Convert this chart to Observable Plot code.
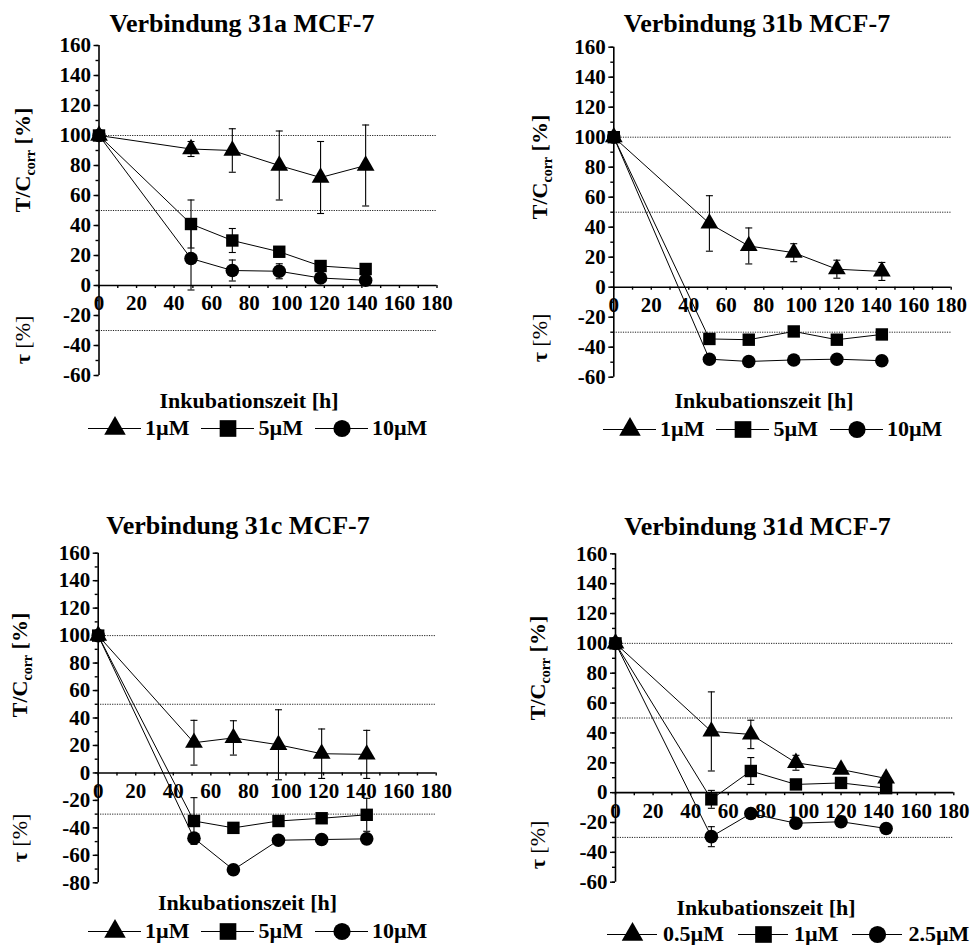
<!DOCTYPE html>
<html><head><meta charset="utf-8">
<script src="https://cdn.jsdelivr.net/npm/d3@7"></script>
<script src="https://cdn.jsdelivr.net/npm/@observablehq/plot@0.6"></script>
<style>
body{margin:0;background:#fff;}
#root{position:relative;width:971px;height:945px;overflow:hidden;font-family:"Liberation Serif","Times New Roman",serif;font-weight:bold;color:#000;background:#fff;}
.abs{position:absolute;white-space:nowrap;}
</style></head><body><div id="root"></div>
<script>
// ---------- data ----------
const symbols = ["triangle", "square", "circle"];
const refLines = [100, 50, -30];
const xMajorTicks = [0, 20, 40, 60, 80, 100, 120, 140, 160, 180];

// Verbindung 31a
const time_a = [0, 49, 71, 96, 118, 142];
const labels_a = ["1µM", "5µM", "10µM"];
const a_1uM = [100, 91, 90, 80, 72, 80];
const a_1uM_err = [0, 5, 14.5, 23, 24, 27];
const a_5uM = [100, 41, 30, 22.5, 13, 11];
const a_5uM_err = [0, 16, 8, 3, 2, 2];
const a_10uM = [100, 18, 10, 9.5, 5, 3.5];
const a_10uM_err = [0, 21, 7, 5, 2, 1];

// Verbindung 31b
const time_b = [0, 51, 72, 96, 119, 143];
const labels_b = ["1µM", "5µM", "10µM"];
const b_1uM = [100, 42.5, 27.5, 23, 12, 10.5];
const b_1uM_err = [0, 18.5, 12, 6, 6, 6];
const b_5uM = [100, -34.5, -35, -29.5, -35, -31.5];
const b_5uM_err = [0, 2, 2, 2, 2, 2];
const b_10uM = [100, -48, -49.5, -48.5, -48, -49];
const b_10uM_err = [0, 2, 2, 2, 2, 2];

// Verbindung 31c
const time_c = [0, 51, 72, 96, 119, 143];
const labels_c = ["1µM", "5µM", "10µM"];
const c_1uM = [100, 22, 25.5, 20.5, 14, 13.5];
const c_1uM_err = [0, 16.3, 12.5, 25.5, 18, 17.5];
const c_5uM = [100, -35, -40, -35, -33, -30.5];
const c_5uM_err = [0, 17, 2, 2, 2, 12];
const c_10uM = [100, -47.5, -70.5, -49, -48.5, -48];
const c_10uM_err = [0, 3, 2, 2, 2, 2];

// Verbindung 31d
const time_d = [0, 51, 72, 96, 120, 144];
const labels_d = ["0.5µM", "1µM", "2.5µM"];
const d_05uM = [100, 41, 39, 20, 15.5, 9.5];
const d_05uM_err = [0, 26.5, 9.5, 5, 2, 2];
const d_1uM = [100, -4.5, 14.5, 5.5, 6.5, 3];
const d_1uM_err = [0, 6, 9, 2, 2, 2];
const d_25uM = [100, -29.5, -14, -20.5, -19.5, -24];
const d_25uM_err = [0, 6.7, 2, 2, 2, 2];

// ---------- layout ----------
const FONT = '"Liberation Serif","Times New Roman",serif';
const root = document.getElementById("root");
const markerR = {triangle: 6.6, square: 7.0, circle: 6.8};
const legendR = {triangle: 8.0, square: 9.4, circle: 8.6};
const capSymbol = {draw(ctx, size) { const w = Math.sqrt(size / Math.PI); ctx.moveTo(-w, 0); ctx.lineTo(w, 0); }};
const axisFont = {fontFamily: FONT, fontSize: 21, fontWeight: "bold", fill: "#000"};

const panels = [
  {title: "Verbindung 31a MCF-7", times: time_a, labels: labels_a,
   values: [a_1uM, a_5uM, a_10uM], errs: [a_1uM_err, a_5uM_err, a_10uM_err],
   left: 0, top: 0, width: 480, height: 400, mL: 98.5, mR: 43.5, mT: 45, mB: 25, yDomain: [-60, 160],
   titleX: 242, titleY: 33, xtX: 249, xtY: 408, ylX: 23, yl1: 160, yl2: 340,
   legX: 88, legCY: 428, seg: 53, gapT: 4, gapI: 12},
  {title: "Verbindung 31b MCF-7", times: time_b, labels: labels_b,
   values: [b_1uM, b_5uM, b_10uM], errs: [b_1uM_err, b_5uM_err, b_10uM_err],
   left: 490, top: 0, width: 480, height: 400, mL: 123.3, mR: 19.3, mT: 46.7, mB: 23.3, yDomain: [-60, 160],
   titleX: 757, titleY: 32.5, xtX: 764, xtY: 408, ylX: 540, yl1: 167, yl2: 338,
   legX: 603, legCY: 429, seg: 53, gapT: 4, gapI: 12},
  {title: "Verbindung 31c MCF-7", times: time_c, labels: labels_c,
   values: [c_1uM, c_5uM, c_10uM], errs: [c_1uM_err, c_5uM_err, c_10uM_err],
   left: 0, top: 480, width: 480, height: 420, mL: 97.7, mR: 44.3, mT: 72.7, mB: 17.7, yDomain: [-80, 160],
   titleX: 238, titleY: 535, xtX: 247.5, xtY: 910, ylX: 20, yl1: 665, yl2: 838,
   legX: 88, legCY: 931, seg: 53, gapT: 4, gapI: 12},
  {title: "Verbindung 31d MCF-7", times: time_d, labels: labels_d,
   values: [d_05uM, d_1uM, d_25uM], errs: [d_05uM_err, d_1uM_err, d_25uM_err],
   left: 490, top: 480, width: 480, height: 420, mL: 125, mR: 16.7, mT: 73.3, mB: 18.3, yDomain: [-60, 160],
   titleX: 757.5, titleY: 536, xtX: 766, xtY: 915, ylX: 538, yl1: 668, yl2: 845,
   legX: 607, legCY: 934, seg: 50, gapT: 6, gapI: 14}
];

function addText(html, x, baseline, size, weight = "bold") {
  const d = document.createElement("div");
  d.className = "abs";
  d.style.fontSize = size + "px";
  d.style.lineHeight = "0";
  d.style.left = x + "px";
  d.style.top = (baseline - 0.3375 * size) + "px";
  d.style.fontWeight = weight;
  d.style.transform = "translateX(-50%)";
  d.innerHTML = html;
  root.appendChild(d);
}
function addRotated(html, cx, cy, size) {
  const d = document.createElement("div");
  d.className = "abs";
  d.style.fontSize = size + "px";
  d.style.lineHeight = "1";
  d.style.left = cx + "px";
  d.style.top = cy + "px";
  d.style.transform = "translate(-50%,-50%) rotate(-90deg)";
  d.innerHTML = html;
  root.appendChild(d);
}

function drawPanel(p) {
  const rows = [];
  p.values.forEach((vals, si) => vals.forEach((v, i) => rows.push({s: si, sym: symbols[si], t: p.times[i], v, e: p.errs[si][i]})));
  const errRows = rows.filter(d => d.e > 0);
  const caps = errRows.flatMap(d => [{t: d.t, y: d.v - d.e}, {t: d.t, y: d.v + d.e}]);
  const plotH = p.height - p.mT - p.mB;
  const y0 = (p.yDomain[1] / (p.yDomain[1] - p.yDomain[0])) * plotH;
  const offBottom = plotH - y0;
  const yMajor = d3.range(p.yDomain[0], p.yDomain[1] + 1, 20);
  const yMinor = d3.range(p.yDomain[0], p.yDomain[1] + 1, 10);
  const xMinor = d3.range(0, 181, 10);

  const marks = [
    Plot.ruleY(refLines, {stroke: "#222", strokeWidth: 1, strokeDasharray: "1.2,1.2"}),
    Plot.ruleX([0], {stroke: "#000", strokeWidth: 1.6}),
    Plot.ruleY([0], {stroke: "#000", strokeWidth: 1.6}),
    Plot.axisY({anchor: "left", ticks: yMinor, tickSize: 3, tickFormat: () => "", strokeWidth: 1.4}),
    Plot.axisY({anchor: "left", ticks: yMajor, tickSize: 5, tickPadding: 3, tickFormat: d => String(d), strokeWidth: 1.4, ...axisFont}),
    Plot.axisX({anchor: "bottom", ticks: xMinor, tickSize: 3, tickFormat: () => "", dy: -offBottom, strokeWidth: 1.4}),
    Plot.axisX({anchor: "bottom", ticks: xMajorTicks, tickSize: 0, tickPadding: 10, tickFormat: d => String(d), dy: -offBottom, ...axisFont}),
    Plot.ruleX(errRows, {x: "t", y1: d => d.v - d.e, y2: d => d.v + d.e, stroke: "#000", strokeWidth: 1.1}),
    Plot.dot(caps, {x: "t", y: "y", symbol: capSymbol, r: 3.5, stroke: "#000", fill: "none", strokeWidth: 1.1})
  ];
  symbols.forEach((sym, si) => {
    const sr = rows.filter(d => d.s === si);
    marks.push(Plot.line(sr, {x: "t", y: "v", stroke: "#000", strokeWidth: 1}));
  });
  symbols.forEach((sym, si) => {
    const sr = rows.filter(d => d.s === si);
    marks.push(Plot.dot(sr, {x: "t", y: "v", symbol: sym, r: markerR[sym], fill: "#000", stroke: "none"}));
  });

  const svg = Plot.plot({
    width: p.width, height: p.height,
    marginLeft: p.mL, marginRight: p.mR, marginTop: p.mT, marginBottom: p.mB,
    x: {domain: [0, 180], label: null},
    y: {domain: p.yDomain, label: null},
    style: {fontFamily: FONT, fontSize: "21px", fontWeight: "bold", color: "#000", background: "transparent", overflow: "visible"},
    marks
  });
  svg.style.position = "absolute";
  svg.style.left = p.left + "px";
  svg.style.top = p.top + "px";
  svg.style.maxWidth = "none";
  root.appendChild(svg);

  addText(p.title, p.titleX, p.titleY, 26);
  addText("Inkubationszeit [h]", p.xtX, p.xtY, 22);
  addRotated('T/C<span style="font-size:14px;position:relative;top:5px">corr</span> [%]', p.ylX, p.yl1, 22);
  addRotated('τ <span style="font-weight:normal">[%]</span>', p.ylX, p.yl2, 22);

  // legend
  const row = document.createElement("div");
  row.className = "abs";
  row.style.left = p.legX + "px";
  row.style.top = (p.legCY - 12) + "px";
  row.style.display = "flex";
  row.style.alignItems = "center";
  row.style.fontSize = "22px";
  row.style.lineHeight = "24px";
  p.labels.forEach((name, i) => {
    const sym = symbols[i];
    const ls = Plot.plot({
      width: p.seg, height: 24, margin: 0,
      x: {domain: [-1, 1], axis: null}, y: {domain: [-1, 1], axis: null},
      style: {background: "transparent", overflow: "visible"},
      marks: [
        Plot.ruleY([0], {stroke: "#000", strokeWidth: 1}),
        Plot.dot([name], {frameAnchor: "middle", symbol: sym, r: legendR[sym], fill: "#000"})
      ]
    });
    ls.style.display = "block";
    ls.style.flex = "none";
    ls.style.marginLeft = i ? p.gapI + "px" : "0px";
    row.appendChild(ls);
    const sp = document.createElement("span");
    sp.textContent = name;
    sp.style.marginLeft = p.gapT + "px";
    row.appendChild(sp);
  });
  root.appendChild(row);
}
panels.forEach(drawPanel);
</script>
</body></html>
